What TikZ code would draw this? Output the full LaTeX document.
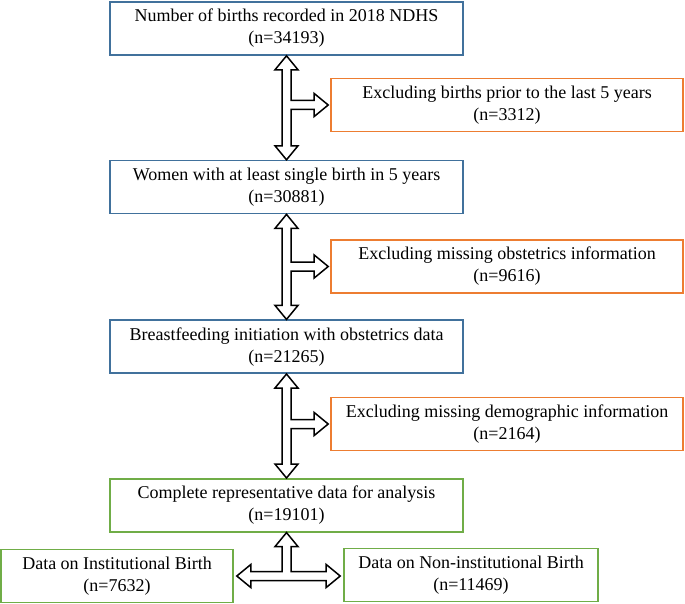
\documentclass[tikz,border=0pt]{standalone}
\usepackage{fontspec}
\setmainfont{Liberation Serif}
\usetikzlibrary{positioning,calc}

\definecolor{boxblue}{HTML}{41719C}
\definecolor{boxorange}{HTML}{ED7D31}
\definecolor{boxgreen}{HTML}{70AD47}

% block arrow sizes (half shaft, half head, head length)
\newcommand{\shaftw}{4.5}
\newcommand{\headw}{11.5}
\newcommand{\headl}{14}

% up/down arrow with a branch to the right
\newcommand{\exclarrow}[3]{%
  \draw[blockarrow] (#1)
    -- ++(\headw,\headl) -- ++(\shaftw-\headw,0)
    -- ($(#1 |- #3)+(\shaftw,-\shaftw)$)
    -- ($(#3)+(-\headl-2,-\shaftw)$) -- ++(0,\shaftw-\headw)
    -- ($(#3)+(-2,0)$) -- ++(-\headl,\headw) -- ++(0,\shaftw-\headw)
    -- ($(#1 |- #3)+(\shaftw,\shaftw)$)
    -- ($(#2)+(\shaftw,-\headl)$) -- ++(\headw-\shaftw,0)
    -- (#2) -- ++(-\headw,-\headl) -- ++(\headw-\shaftw,0)
    -- ($(#1)+(-\shaftw,\headl)$) -- ++(\shaftw-\headw,0) -- cycle;}

% up arrow splitting to left and right
\newcommand{\splitarrow}[3]{%
  \draw[blockarrow] (#1)
    -- ++(\headw,\headl) -- ++(\shaftw-\headw,0)
    -- ($(#1 |- #2)+(\shaftw,-\shaftw)$)
    -- ($(#3 |- #2)+(-\headl-3,-\shaftw)$) -- ++(0,\shaftw-\headw)
    -- ($(#3 |- #2)+(-3,0)$) -- ++(-\headl,\headw) -- ++(0,\shaftw-\headw)
    -- ($(#2)+(\headl+3,\shaftw)$) -- ++(0,\headw-\shaftw)
    -- ($(#2)+(3,0)$) -- ++(\headl,-\headw) -- ++(0,\headw-\shaftw)
    -- ($(#1 |- #2)+(-\shaftw,-\shaftw)$)
    -- ($(#1)+(-\shaftw,\headl)$) -- ++(\shaftw-\headw,0) -- cycle;}

\begin{document}
\begin{tikzpicture}[x=1pt, y=-1pt,
    box/.style={draw, line width=1.6pt, fill=white, align=center, inner sep=2pt,
      minimum height=53pt, font=\fontsize{18}{22}\selectfont},
    mainbox/.style={box, draw=boxblue, minimum width=353pt},
    exclbox/.style={box, draw=boxorange, minimum width=352pt},
    resultbox/.style={box, draw=boxgreen},
    blockarrow/.style={draw=black, line width=1.5pt, fill=white, line join=miter}]
    \useasboundingbox (0,0) rectangle (685,604);

    % main column
    \node[mainbox] (births) at (286.5,28.5) {Number of births recorded in 2018 NDHS\\(n=34193)};
    \node[mainbox, below=104pt of births] (women) {Women with at least single birth in 5 years\\(n=30881)};
    \node[mainbox, below=105pt of women] (obstet) {Breastfeeding initiation with obstetrics data\\(n=21265)};
    \node[resultbox, minimum width=353pt, below=104pt of obstet] (complete) {Complete representative data for analysis\\(n=19101)};

    % exclusions
    \node[exclbox] (prior) at (507,105) {Excluding births prior to the last 5 years\\(n=3312)};
    \node[exclbox] (noobst) at (507,266.5) {Excluding missing obstetrics information\\(n=9616)};
    \node[exclbox] (nodemo) at (507,424) {Excluding missing demographic information\\(n=2164)};

    % split by place of birth
    \node[resultbox, minimum width=232pt] (inst) at (117,576) {Data on Institutional Birth\\(n=7632)};
    \node[resultbox, minimum width=254pt] (noninst) at (471,575) {Data on Non-institutional Birth\\(n=11469)};

    \exclarrow{births.south}{women.north}{prior.west}
    \exclarrow{women.south}{obstet.north}{noobst.west}
    \exclarrow{obstet.south}{complete.north}{nodemo.west}
    \splitarrow{complete.south}{inst.east}{noninst.west}
\end{tikzpicture}
\end{document}
